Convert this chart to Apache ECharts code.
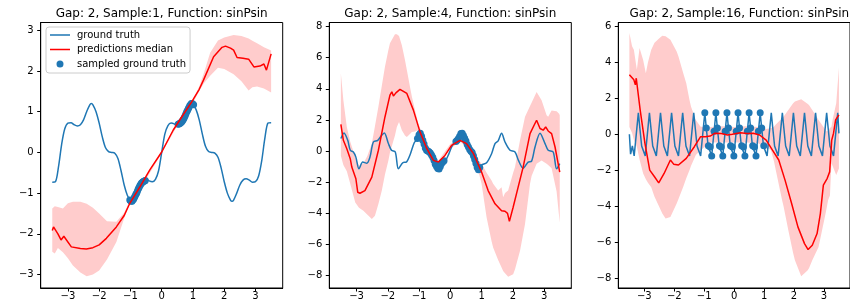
<!DOCTYPE html>
<html>
<head>
<meta charset="utf-8">
<script src="https://cdn.jsdelivr.net/npm/echarts@6/dist/echarts.min.js"></script>
<style>
  html, body { margin: 0; padding: 0; background: #fff; }
  #chart { width: 850px; height: 306px; }
</style>
</head>
<body>
<div id="chart"></div>
<script>
// ---- data ----
const titles = [
    'Gap: 2, Sample:1, Function: sinPsin',
    'Gap: 2, Sample:4, Function: sinPsin',
    'Gap: 2, Sample:16, Function: sinPsin'
]
const xTicks = [-3, -2, -1, 0, 1, 2, 3]
const p1YTicks = [-3, -2, -1, 0, 1, 2, 3]
const p2YTicks = [-8, -6, -4, -2, 0, 2, 4, 6, 8]
const p3YTicks = [-8, -6, -4, -2, 0, 2, 4, 6]

// panel 1 (Sample:1)
const p1TruthX = [-3.5, -3.4, -3.3, -3.2, -3.1, -3.0, -2.9, -2.8, -2.7, -2.6, -2.5, -2.4, -2.3, -2.25, -2.2, -2.1, -2.0, -1.9, -1.8, -1.7, -1.6, -1.5, -1.4, -1.3, -1.2, -1.1, -1.0, -0.95, -0.9, -0.8, -0.7, -0.6, -0.5, -0.4, -0.3, -0.2, -0.1, 0, 0.1, 0.2, 0.3, 0.4, 0.5, 0.6, 0.7, 0.8, 0.9, 0.95, 1.0, 1.1, 1.2, 1.3, 1.4, 1.5, 1.6, 1.7, 1.8, 1.9, 2.0, 2.1, 2.2, 2.25, 2.3, 2.4, 2.5, 2.6, 2.7, 2.8, 2.9, 3.0, 3.1, 3.2, 3.3, 3.4, 3.5]
const p1TruthY = [-0.73, -0.72, -0.35, 0.2, 0.58, 0.72, 0.73, 0.68, 0.65, 0.68, 0.8, 1.0, 1.17, 1.2, 1.17, 1.0, 0.72, 0.38, 0.12, 0.02, 0.0, -0.02, -0.15, -0.45, -0.8, -1.05, -1.18, -1.2, -1.15, -1.0, -0.82, -0.7, -0.65, -0.7, -0.72, -0.66, -0.45, 0, 0.45, 0.66, 0.72, 0.7, 0.65, 0.7, 0.82, 1.0, 1.15, 1.2, 1.18, 1.05, 0.8, 0.45, 0.15, 0.02, 0.0, -0.02, -0.12, -0.38, -0.72, -1.0, -1.17, -1.2, -1.17, -1.0, -0.8, -0.68, -0.65, -0.68, -0.73, -0.72, -0.58, -0.2, 0.35, 0.72, 0.73]
const p1MedianX = [-3.5, -3.46, -3.32, -3.22, -3.13, -2.89, -2.6, -2.41, -2.2, -2.0, -1.77, -1.45, -1.2, -1.02, -0.7, -0.38, 0, 0.37, 0.64, 0.96, 1.2, 1.34, 1.66, 1.93, 2.04, 2.2, 2.3, 2.41, 2.6, 2.78, 2.95, 3.14, 3.27, 3.35, 3.5]
const p1MedianY = [-1.92, -1.83, -2.0, -2.15, -2.06, -2.32, -2.36, -2.37, -2.34, -2.27, -2.11, -1.83, -1.55, -1.25, -0.85, -0.43, 0.01, 0.55, 0.87, 1.24, 1.55, 1.78, 2.35, 2.58, 2.61, 2.56, 2.51, 2.33, 2.31, 2.29, 2.1, 2.12, 2.17, 2.02, 2.42]
const p1BandX = [-3.5, -3.42, -3.32, -3.16, -3.0, -2.84, -2.6, -2.4, -2.2, -2.0, -1.75, -1.45, -1.2, -1.04, -0.5, 0, 0.5, 1.0, 1.2, 1.35, 1.55, 1.8, 2.0, 2.3, 2.55, 2.78, 2.9, 3.05, 3.27, 3.5]
const p1BandHigh = [-1.38, -1.32, -1.34, -1.38, -1.25, -1.21, -1.21, -1.26, -1.36, -1.5, -1.69, -1.7, -1.48, -1.22, -0.6, 0.04, 0.74, 1.3, 1.62, 1.95, 2.45, 2.75, 2.82, 2.88, 2.86, 2.8, 2.74, 2.68, 2.58, 2.5]
const p1BandLow = [-2.44, -2.48, -2.35, -2.45, -2.6, -2.78, -2.95, -3.04, -3.0, -2.9, -2.63, -2.2, -1.62, -1.3, -0.66, -0.02, 0.66, 1.22, 1.5, 1.7, 1.88, 2.08, 2.05, 1.92, 1.75, 1.52, 1.6, 1.62, 1.57, 1.47]
const p1SampleX = [-1.02, -1.0, -0.975, -0.95, -0.925, -0.9, -0.875, -0.85, -0.825, -0.8, -0.775, -0.75, -0.725, -0.7, -0.675, -0.65, -0.625, -0.6, -0.575, -0.55, -0.525, 0.525, 0.55, 0.575, 0.6, 0.625, 0.65, 0.675, 0.7, 0.725, 0.75, 0.775, 0.8, 0.825, 0.85, 0.875, 0.9, 0.925, 0.95, 0.975, 1.0, 1.02]
const p1SampleY = [-1.17, -1.18, -1.2, -1.2, -1.17, -1.15, -1.11, -1.07, -1.03, -1.0, -0.95, -0.9, -0.86, -0.82, -0.79, -0.76, -0.74, -0.72, -0.71, -0.7, -0.69, 0.69, 0.7, 0.71, 0.72, 0.74, 0.76, 0.79, 0.82, 0.86, 0.9, 0.95, 1.0, 1.03, 1.07, 1.11, 1.15, 1.17, 1.2, 1.2, 1.18, 1.17]

// panel 2 (Sample:4)
const p2TruthX = [-3.5, -3.4, -3.28, -3.2, -3.1, -3.02, -2.92, -2.8, -2.67, -2.57, -2.46, -2.32, -2.2, -2.11, -1.98, -1.88, -1.76, -1.66, -1.52, -1.4, -1.28, -1.15, -1.07, -0.97, -0.86, -0.76, -0.66, -0.55, -0.38, -0.26, -0.15, -0.05, 0.05, 0.15, 0.26, 0.36, 0.47, 0.58, 0.68, 0.79, 0.89, 1.0, 1.16, 1.32, 1.43, 1.53, 1.64, 1.75, 1.91, 2.07, 2.18, 2.33, 2.49, 2.6, 2.71, 2.87, 3.03, 3.13, 3.29, 3.4, 3.5]
const p2TruthY = [0.8, 1.16, 0.69, 0.05, -0.06, -0.39, -1.14, -0.71, -0.78, -0.39, 0.58, 0.69, 1.0, 1.16, 0.48, 0.05, -0.06, -1.14, -0.75, -0.7, -0.2, 0.55, 0.7, 1.15, 0.6, 0.05, -0.06, -0.4, -1.15, -0.75, -0.6, -0.2, 0.3, 0.6, 0.8, 1.15, 0.8, 0.26, -0.06, -0.6, -1.2, -0.9, -0.75, -0.17, 0.48, 0.65, 1.15, 0.58, 0.05, -0.06, -0.6, -1.1, -0.71, -0.65, 0.26, 1.15, 0.48, 0.05, -0.06, -1.14, -0.81]
const p2MedianX = [-3.5, -3.42, -3.31, -3.2, -3.15, -3.1, -3.02, -2.96, -2.89, -2.73, -2.51, -2.3, -2.09, -1.93, -1.87, -1.82, -1.74, -1.61, -1.39, -1.18, -0.97, -0.75, -0.54, -0.38, -0.17, 0.04, 0.31, 0.52, 0.74, 1.0, 1.21, 1.43, 1.64, 1.75, 1.83, 1.89, 2.01, 2.17, 2.33, 2.55, 2.68, 2.76, 2.87, 2.97, 3.05, 3.13, 3.24, 3.35, 3.5]
const p2MedianY = [1.72, 0.69, 0.15, -0.49, -1.03, -1.14, -1.78, -2.65, -2.71, -2.54, -1.68, 0.05, 2.19, 3.59, 3.81, 3.53, 3.74, 3.96, 3.7, 2.63, 1.23, 0.15, -0.6, -0.71, -0.28, 0.37, 0.69, 0.48, -0.17, -1.35, -2.54, -3.39, -3.83, -3.87, -4.0, -4.52, -3.61, -2.32, -1.03, 1.12, 1.66, 1.98, 1.45, 1.34, 1.55, 1.29, 1.12, 0.26, -1.35]
const p2BandX = [-3.5, -3.42, -3.31, -3.2, -3.04, -2.92, -2.78, -2.65, -2.51, -2.41, -2.3, -2.19, -2.09, -1.98, -1.93, -1.77, -1.71, -1.64, -1.55, -1.45, -1.39, -1.29, -1.23, -1.13, -1.02, -0.7, -0.38, 0, 0.31, 0.6, 0.84, 1.0, 1.16, 1.32, 1.37, 1.53, 1.64, 1.69, 1.75, 1.85, 2.01, 2.07, 2.23, 2.39, 2.55, 2.6, 2.76, 2.92, 3.08, 3.13, 3.24, 3.4, 3.48, 3.5]
const p2BandHigh = [4.99, 3.27, 1.55, 0.6, -0.4, -0.95, -0.8, -0.3, 0.48, 1.6, 2.84, 4.2, 5.42, 6.5, 6.93, 7.5, 7.5, 7.4, 6.8, 5.85, 5.2, 4.13, 3.5, 2.63, 1.75, 0.1, -0.6, 0.45, 0.8, 0.35, -0.45, -0.81, -1.4, -1.89, -2.1, -2.54, -2.32, -2.97, -2.7, -2.54, -1.4, -1.03, 0.69, 2.2, 2.9, 3.1, 3.8, 3.27, 2.3, 2.2, 2.6, 2.55, 2.4, 2.3]
const p2BandLow = [-0.3, -0.9, -1.3, -2.1, -3.3, -3.65, -3.83, -4.1, -4.36, -4.15, -3.4, -2.54, -1.5, -0.6, -0.1, 1.0, 1.55, 1.87, 1.34, 1.0, 0.9, 1.1, 1.23, 1.25, 1.35, -0.2, -0.85, 0.15, 0.6, 0.12, -0.85, -2.1, -4.26, -5.8, -6.19, -7.0, -7.48, -7.7, -7.85, -8.08, -7.91, -7.6, -6.4, -4.68, -2.1, -1.6, -0.81, -0.6, -0.81, -0.9, -1.1, -2.6, -4.2, -4.6]
const p2SampleX = [-1.05, -1.0, -0.96, -0.92, -0.88, -0.84, -0.8, -0.76, -0.72, -0.68, -0.64, -0.6, -0.56, -0.52, -0.48, -0.44, -0.4, -0.36, -0.32, -0.28, -0.24, -0.2, 0.18, 0.22, 0.26, 0.3, 0.34, 0.38, 0.42, 0.46, 0.5, 0.54, 0.58, 0.62, 0.66, 0.7, 0.74, 0.78, 0.82, 0.86, 0.9, 0.94]
const p2SampleY = [0.8, 1.05, 1.15, 0.95, 0.7, 0.45, 0.2, 0.05, 0.0, -0.05, -0.12, -0.25, -0.4, -0.6, -0.85, -1.0, -1.12, -1.15, -1.0, -0.8, -0.7, -0.62, 0.62, 0.7, 0.8, 0.95, 1.12, 1.15, 1.0, 0.82, 0.65, 0.42, 0.26, 0.1, -0.02, -0.1, -0.3, -0.55, -0.8, -1.05, -1.2, -1.05]

// panel 3 (Sample:16)
const p3TruthX = [-3.5, -3.46, -3.4, -3.34, -3.27,
    -3.2, -3.15, -3.09, -3.03, -2.97, -2.9,
    -2.83, -2.78, -2.72, -2.66, -2.6, -2.53,
    -2.46, -2.41, -2.35, -2.29, -2.23, -2.16,
    -2.09, -2.04, -1.98, -1.92, -1.86, -1.79,
    -1.72, -1.67, -1.61, -1.55, -1.49, -1.42,
    -1.35, -1.3, -1.24, -1.18, -1.12, -1.05,
    -0.98, -0.93, -0.87, -0.81, -0.75, -0.68,
    -0.61, -0.56, -0.5, -0.44, -0.38, -0.31,
    -0.24, -0.19, -0.13, -0.07, -0.01, 0.06,
    0.13, 0.18, 0.24, 0.3, 0.36, 0.43,
    0.5, 0.55, 0.61, 0.67, 0.73, 0.8,
    0.87, 0.92, 0.98, 1.04, 1.1, 1.17,
    1.24, 1.29, 1.35, 1.41, 1.47, 1.54,
    1.61, 1.66, 1.72, 1.78, 1.84, 1.91,
    1.98, 2.03, 2.09, 2.15, 2.21, 2.28,
    2.35, 2.4, 2.46, 2.52, 2.58, 2.65,
    2.72, 2.77, 2.83, 2.89, 2.95, 3.02,
    3.09, 3.14, 3.2, 3.26, 3.32, 3.39,
    3.46, 3.5]
const p3TruthY = [0, -1.1, -0.65, -1.2, 0.0,
    1.2, 0.35, -0.65, -0.6, -1.2, 0.0,
    1.2, 0.35, -0.65, -0.6, -1.2, 0.0,
    1.2, 0.35, -0.65, -0.6, -1.2, 0.0,
    1.2, 0.35, -0.65, -0.6, -1.2, 0.0,
    1.2, 0.35, -0.65, -0.6, -1.2, 0.0,
    1.2, 0.35, -0.65, -0.6, -1.2, 0.0,
    1.2, 0.35, -0.65, -0.6, -1.2, 0.0,
    1.2, 0.35, -0.65, -0.6, -1.2, 0.0,
    1.2, 0.35, -0.65, -0.6, -1.2, 0.0,
    1.2, 0.35, -0.65, -0.6, -1.2, 0.0,
    1.2, 0.35, -0.65, -0.6, -1.2, 0.0,
    1.2, 0.35, -0.65, -0.6, -1.2, 0.0,
    1.2, 0.35, -0.65, -0.6, -1.2, 0.0,
    1.2, 0.35, -0.65, -0.6, -1.2, 0.0,
    1.2, 0.35, -0.65, -0.6, -1.2, 0.0,
    1.2, 0.35, -0.65, -0.6, -1.2, 0.0,
    1.2, 0.35, -0.65, -0.6, -1.2, 0.0,
    1.2, 0.35, -0.65, -0.6, -1.2, 0.0,
    1.2, 0.05]
const p3MedianX = [-3.5, -3.35, -3.3, -3.27, -3.14, -2.98, -2.82, -2.66, -2.52, -2.34, -2.13, -2.02, -1.86, -1.6, -1.33, -1.12, -0.96, -0.8, -0.64, -0.43, -0.22, -0.06, 0.21, 0.43, 0.64, 0.85, 1.07, 1.28, 1.49, 1.7, 1.92, 2.13, 2.35, 2.47, 2.61, 2.77, 2.88, 2.98, 3.11, 3.19, 3.26, 3.32, 3.39, 3.5]
const p3MedianY = [3.31, 3.03, 2.75, 3.12, 1.36, -0.5, -1.99, -2.36, -2.7, -2.18, -1.43, -1.66, -1.71, -1.34, -0.69, -0.13, -0.13, -0.1, 0.06, 0.04, -0.04, 0, 0.09, 0.04, 0.06, -0.04, -0.32, -0.88, -1.43, -2.55, -3.85, -5.15, -6.08, -6.41, -6.17, -5.52, -4.41, -2.83, -2.45, -2.09, -0.32, 0.06, 0.8, 1.08]
const p3BandX = [-3.5, -3.41, -3.35, -3.25, -3.16, -3.04, -2.95, -2.88, -2.77, -2.66, -2.5, -2.4, -2.29, -2.13, -1.92, -1.86, -1.7, -1.6, -1.49, -1.44, -1.28, -1.12, -0.8, -0.4, 0, 0.4, 0.8, 1.07, 1.23, 1.33, 1.39, 1.6, 1.65, 1.81, 1.97, 2.03, 2.24, 2.45, 2.5, 2.61, 2.82, 3.03, 3.09, 3.14, 3.2, 3.25, 3.3, 3.41, 3.5]
const p3BandHigh = [5.63, 4.9, 4.7, 3.59, 4.8, 4.14, 3.4, 4.0, 4.7, 5.1, 5.35, 5.48, 5.45, 5.26, 4.6, 4.33, 3.4, 2.84, 1.9, 1.54, 0.8, 0.42, 0.4, 0.45, 0.4, 0.45, 0.4, 0.3, 0.35, 0.42, 0.55, 0.9, 0.98, 1.35, 1.73, 1.83, 1.95, 1.7, 1.63, 1.35, 0.8, 0.3, 0.15, 0.2, 0.35, 0.42, 0.9, 1.73, 3.7]
const p3BandLow = [0.4, 0.07, -0.3, -0.69, -1.4, -2.18, -2.5, -2.7, -2.95, -3.48, -4.05, -4.4, -4.69, -4.6, -3.85, -3.6, -2.92, -2.45, -1.99, -1.75, -1.15, -0.88, -0.45, -0.45, -0.45, -0.45, -0.5, -0.7, -0.88, -1.5, -1.99, -3.66, -4.0, -5.34, -6.6, -7.01, -7.9, -7.57, -7.45, -7.01, -6.27, -4.6, -4.1, -3.66, -3.4, -1.6, -1.8, -2.27, -1.9]
const p3SampleX = [-0.98, -0.93, -0.86, -0.8, -0.75, -0.67, -0.61, -0.56, -0.49, -0.43, -0.38, -0.3, -0.24, -0.19, -0.12, -0.06, -0.01, 0.07, 0.13, 0.18, 0.25, 0.31, 0.36, 0.44, 0.5, 0.55, 0.62, 0.68, 0.73, 0.81, 0.87, 0.92, 0.99]
const p3SampleY = [1.2, 0.35, -0.64, -0.7, -1.2, 0.17, 1.2, 0.35, -0.64, -0.7, -1.2, 0.17, 1.2, 0.35, -0.64, -0.7, -1.2, 0.17, 1.2, 0.35, -0.64, -0.7, -1.2, 0.17, 1.2, 0.35, -0.64, -0.7, -1.2, 0.17, 1.2, 0.35, -0.64]

// ---- styling ----
const BLUE = '#1f77b4'
const RED = '#ff0000'
const BAND = '#ffcccc'
const FONT = 'DejaVu Sans'
const gridLefts = [40.7, 329.3, 618.3]
const gridTop = 22.5
const gridW = 242
const gridH = 265.5

const zip = (xs, ys) => xs.map((x, i) => [x, ys[i]])
const fmt = v => (v < 0 ? '\u2212' + Math.abs(v) : String(v))

const panels = [
    { yMin: -3.33, yMax: 3.19, yTicks: p1YTicks, truth: zip(p1TruthX, p1TruthY), median: zip(p1MedianX, p1MedianY), bandX: p1BandX, bandLo: p1BandLow, bandHi: p1BandHigh, samples: zip(p1SampleX, p1SampleY), smooth: 0.3 },
    { yMin: -8.8, yMax: 8.26, yTicks: p2YTicks, truth: zip(p2TruthX, p2TruthY), median: zip(p2MedianX, p2MedianY), bandX: p2BandX, bandLo: p2BandLow, bandHi: p2BandHigh, samples: zip(p2SampleX, p2SampleY), smooth: 0.3 },
    { yMin: -8.55, yMax: 6.22, yTicks: p3YTicks, truth: zip(p3TruthX, p3TruthY), median: zip(p3MedianX, p3MedianY), bandX: p3BandX, bandLo: p3BandLow, bandHi: p3BandHigh, samples: zip(p3SampleX, p3SampleY), smooth: false }
]

const axisText = { color: '#000', fontSize: 10, fontFamily: FONT, formatter: fmt }
const axisStroke = { color: '#000', width: 1 }

function bandSeries(i, p) {
    return {
        type: 'custom',
        xAxisIndex: i,
        yAxisIndex: i,
        z: 1,
        silent: true,
        data: p.bandX.map((x, k) => [x, p.bandLo[k], p.bandHi[k]]),
        encode: { x: 0, y: [1, 2] },
        renderItem: (params, api) => {
            if (params.dataIndex !== 0) return
            const top = p.bandX.map((x, k) => api.coord([x, p.bandHi[k]]))
            const bottom = p.bandX.map((x, k) => api.coord([x, p.bandLo[k]])).reverse()
            return { type: 'polygon', shape: { points: top.concat(bottom) }, style: { fill: BAND } }
        }
    }
}

const option = {
    animation: false,
    title: titles.map((t, i) => ({
        text: t,
        left: gridLefts[i] + gridW / 2,
        textAlign: 'center',
        top: 8,
        padding: 0,
        textStyle: { fontFamily: FONT, fontSize: 12, fontWeight: 'normal', color: '#000' }
    })),
    legend: {
        orient: 'vertical',
        left: 46,
        top: 27,
        padding: [3, 4, 4, 4],
        itemWidth: 20,
        itemHeight: 10,
        itemGap: 4.5,
        selectedMode: false,
        backgroundColor: 'rgba(255,255,255,0.8)',
        borderColor: '#cccccc',
        borderWidth: 1,
        borderRadius: 3,
        itemStyle: { borderWidth: 0 },
        textStyle: { fontFamily: FONT, fontSize: 10, color: '#000', lineHeight: 10, padding: [0, 0, 0, 2] },
        data: [
            { name: 'ground truth', icon: 'path://M0,0h0.05v0.05h-0.05z M19.95,9.95h0.05v0.05h-0.05z M0,4.25h20v1.5h-20z' },
            { name: 'predictions median', icon: 'path://M0,0h0.05v0.05h-0.05z M19.95,9.95h0.05v0.05h-0.05z M0,4.25h20v1.5h-20z' },
            { name: 'sampled ground truth', icon: 'path://M0,0h0.05v0.05h-0.05z M19.95,9.95h0.05v0.05h-0.05z M13.5,5a3.5,3.5 0 1,1 -7,0a3.5,3.5 0 1,1 7,0z' }
        ]
    },
    grid: gridLefts.map(l => ({
        left: l, top: gridTop, width: gridW, height: gridH,
        show: true, borderColor: '#000', borderWidth: 1, backgroundColor: 'transparent'
    })),
    xAxis: panels.map((p, i) => ({
        type: 'value', gridIndex: i, min: -3.87, max: 3.87,
        axisLine: { show: true, onZero: false, lineStyle: axisStroke },
        axisTick: { show: true, customValues: xTicks, length: 3.5, lineStyle: axisStroke },
        axisLabel: Object.assign({ customValues: xTicks, margin: 3 }, axisText),
        splitLine: { show: false }
    })),
    yAxis: panels.map((p, i) => ({
        type: 'value', gridIndex: i, min: p.yMin, max: p.yMax,
        axisLine: { show: true, onZero: false, lineStyle: axisStroke },
        axisTick: { show: true, customValues: p.yTicks, length: 3.5, lineStyle: axisStroke },
        axisLabel: Object.assign({ customValues: p.yTicks, margin: 7 }, axisText),
        splitLine: { show: false }
    })),
    series: []
}

panels.forEach((p, i) => {
    option.series.push(bandSeries(i, p))
    option.series.push({
        name: 'sampled ground truth', type: 'scatter', xAxisIndex: i, yAxisIndex: i,
        data: p.samples, symbolSize: 7, color: BLUE, itemStyle: { color: BLUE, opacity: 1 },
        z: 2, silent: true
    })
    option.series.push({
        name: 'ground truth', type: 'line', xAxisIndex: i, yAxisIndex: i,
        data: p.truth, symbol: 'none', showSymbol: false, smooth: p.smooth,
        color: BLUE, lineStyle: { color: BLUE, width: 1.5 }, z: 3, silent: true
    })
    option.series.push({
        name: 'predictions median', type: 'line', xAxisIndex: i, yAxisIndex: i,
        data: p.median, symbol: 'none', showSymbol: false,
        color: RED, lineStyle: { color: RED, width: 1.5 }, z: 4, silent: true
    })
})

const chart = echarts.init(document.getElementById('chart'), null, { renderer: 'canvas' })
chart.setOption(option)
</script>
</body>
</html>
